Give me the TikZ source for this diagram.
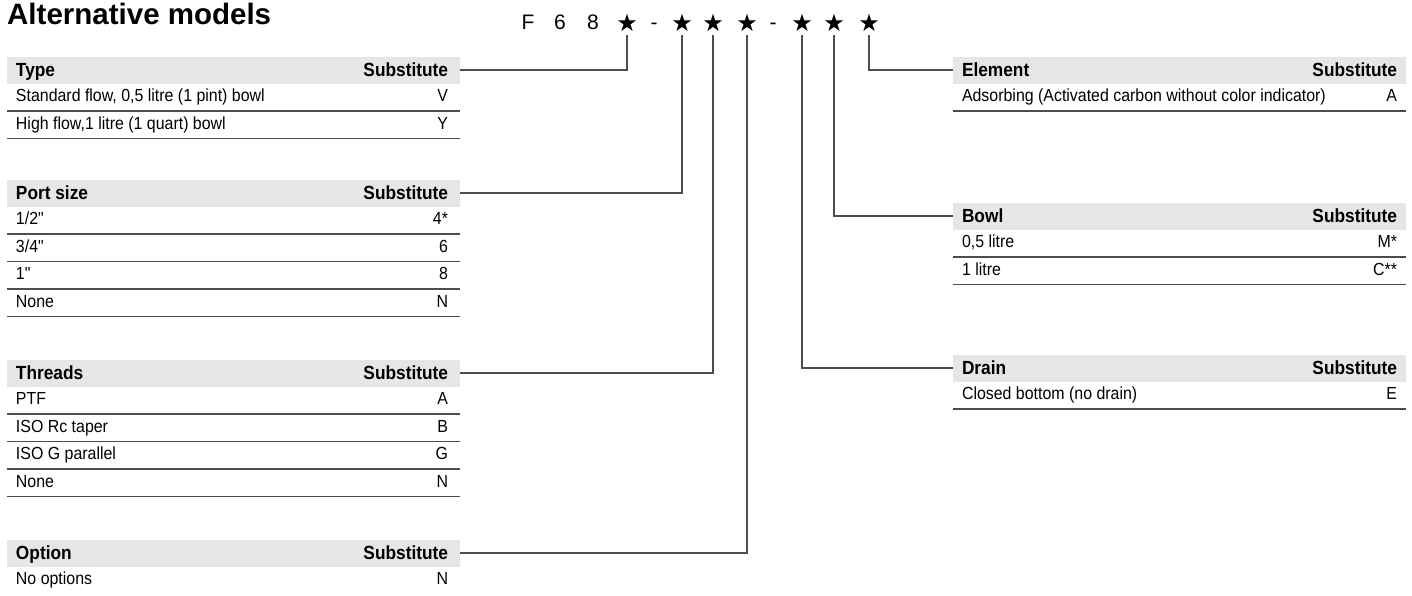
\documentclass[tikz,border=0pt]{standalone}
\usepackage{fontspec}
\setmainfont{Liberation Sans}
\newfontfamily\tabfont[FakeStretch=0.91,Ligatures=TeXOff]{Liberation Sans}
\newfontfamily\starfont{DejaVu Sans}
\usetikzlibrary{positioning}
\definecolor{bandgray}{HTML}{E6E6E6}
\definecolor{linegray}{HTML}{4D4D4D}

\begin{document}
\begin{tikzpicture}[x=1pt,y=-1pt,
    band/.style={fill=bandgray,minimum width=453pt,minimum height=27pt,inner sep=0pt},
    rowbox/.style={minimum width=453pt,minimum height=27pt,inner sep=0pt},
    headtext/.style={inner sep=0pt,font=\tabfont\bfseries\fontsize{19}{22}\selectfont,text height=13pt,text depth=0pt},
    rowtext/.style={inner sep=0pt,font=\tabfont\fontsize{17.5}{20}\selectfont,text height=12pt,text depth=3pt},
    codechar/.style={inner sep=0pt,anchor=base,font=\fontsize{21}{24}\selectfont},
    star/.style={inner sep=0pt,outer sep=4pt,anchor=base,font=\starfont\fontsize{24}{28}\selectfont},
    sepline/.style={draw=linegray,line width=1.3pt},
    conn/.style={draw=linegray,line width=1.2pt}]
  \useasboundingbox (0,0) rectangle (1412,595);

  \node[anchor=base west,inner sep=0pt,font=\bfseries\fontsize{29.5}{34}\selectfont] (title) at (7,24) {Alternative models};

  % order code
  \node[codechar] (cF) at (528,29) {F};
  \node[codechar] (c6) at (560,29) {6};
  \node[codechar] (c8) at (593,29) {8};
  \node[star] (s1) at (627,31) {★};
  \node[codechar] (d1) at (654,29) {-};
  \node[star] (s2) at (682,31) {★};
  \node[star] (s3) at (713,31) {★};
  \node[star] (s4) at (747,31) {★};
  \node[codechar] (d2) at (773,29) {-};
  \node[star] (s5) at (802,31) {★};
  \node[star] (s6) at (834,31) {★};
  \node[star] (s7) at (869,31) {★};

  % Type
  \node[band] (typeH) at (233.5,70) {};
  \node[headtext,right=9pt of typeH.west] (typeL) {Type};
  \node[headtext,left=12pt of typeH.east] (typeS) {Substitute};
  \node[rowbox,below=0pt of typeH] (type1) {};
  \node[rowbox,below=0pt of type1] (type2) {};
  \node[rowtext,right=9pt of type1.west] (type1t) {Standard flow, 0,5 litre (1 pint) bowl};
  \node[rowtext,left=12pt of type1.east] (type1v) {V};
  \node[rowtext,right=9pt of type2.west] (type2t) {High flow,1 litre (1 quart) bowl};
  \node[rowtext,left=12pt of type2.east] (type2v) {Y};
  \draw[sepline] (type1.south west) -- (type1.south east);
  \draw[sepline] (type2.south west) -- (type2.south east);

  % Port size
  \node[band] (portH) at (233.5,193) {};
  \node[headtext,right=9pt of portH.west] (portL) {Port size};
  \node[headtext,left=12pt of portH.east] (portS) {Substitute};
  \node[rowbox,below=0pt of portH] (port1) {};
  \node[rowbox,below=0pt of port1] (port2) {};
  \node[rowbox,below=0pt of port2] (port3) {};
  \node[rowbox,below=0pt of port3] (port4) {};
  \node[rowtext,right=9pt of port1.west] (port1t) {1/2"};
  \node[rowtext,left=12pt of port1.east] (port1v) {4*};
  \node[rowtext,right=9pt of port2.west] (port2t) {3/4"};
  \node[rowtext,left=12pt of port2.east] (port2v) {6};
  \node[rowtext,right=9pt of port3.west] (port3t) {1"};
  \node[rowtext,left=12pt of port3.east] (port3v) {8};
  \node[rowtext,right=9pt of port4.west] (port4t) {None};
  \node[rowtext,left=12pt of port4.east] (port4v) {N};
  \draw[sepline] (port1.south west) -- (port1.south east);
  \draw[sepline] (port2.south west) -- (port2.south east);
  \draw[sepline] (port3.south west) -- (port3.south east);
  \draw[sepline] (port4.south west) -- (port4.south east);

  % Threads
  \node[band] (threadH) at (233.5,373) {};
  \node[headtext,right=9pt of threadH.west] (threadL) {Threads};
  \node[headtext,left=12pt of threadH.east] (threadS) {Substitute};
  \node[rowbox,below=0pt of threadH] (thread1) {};
  \node[rowbox,below=0pt of thread1] (thread2) {};
  \node[rowbox,below=0pt of thread2] (thread3) {};
  \node[rowbox,below=0pt of thread3] (thread4) {};
  \node[rowtext,right=9pt of thread1.west] (thread1t) {PTF};
  \node[rowtext,left=12pt of thread1.east] (thread1v) {A};
  \node[rowtext,right=9pt of thread2.west] (thread2t) {ISO Rc taper};
  \node[rowtext,left=12pt of thread2.east] (thread2v) {B};
  \node[rowtext,right=9pt of thread3.west] (thread3t) {ISO G parallel};
  \node[rowtext,left=12pt of thread3.east] (thread3v) {G};
  \node[rowtext,right=9pt of thread4.west] (thread4t) {None};
  \node[rowtext,left=12pt of thread4.east] (thread4v) {N};
  \draw[sepline] (thread1.south west) -- (thread1.south east);
  \draw[sepline] (thread2.south west) -- (thread2.south east);
  \draw[sepline] (thread3.south west) -- (thread3.south east);
  \draw[sepline] (thread4.south west) -- (thread4.south east);

  % Option
  \node[band] (optionH) at (233.5,553) {};
  \node[headtext,right=9pt of optionH.west] (optionL) {Option};
  \node[headtext,left=12pt of optionH.east] (optionS) {Substitute};
  \node[rowbox,below=0pt of optionH] (option1) {};
  \node[rowtext,right=9pt of option1.west] (option1t) {No options};
  \node[rowtext,left=12pt of option1.east] (option1v) {N};

  % Element
  \node[band] (elemH) at (1179.5,70) {};
  \node[headtext,right=9pt of elemH.west] (elemL) {Element};
  \node[headtext,left=9pt of elemH.east] (elemS) {Substitute};
  \node[rowbox,below=0pt of elemH] (elem1) {};
  \node[rowtext,right=9pt of elem1.west] (elem1t) {Adsorbing (Activated carbon without color indicator)};
  \node[rowtext,left=9pt of elem1.east] (elem1v) {A};
  \draw[sepline] (elem1.south west) -- (elem1.south east);

  % Bowl
  \node[band] (bowlH) at (1179.5,216) {};
  \node[headtext,right=9pt of bowlH.west] (bowlL) {Bowl};
  \node[headtext,left=9pt of bowlH.east] (bowlS) {Substitute};
  \node[rowbox,below=0pt of bowlH] (bowl1) {};
  \node[rowbox,below=0pt of bowl1] (bowl2) {};
  \node[rowtext,right=9pt of bowl1.west] (bowl1t) {0,5 litre};
  \node[rowtext,left=9pt of bowl1.east] (bowl1v) {M*};
  \node[rowtext,right=9pt of bowl2.west] (bowl2t) {1 litre};
  \node[rowtext,left=9pt of bowl2.east] (bowl2v) {C**};
  \draw[sepline] (bowl1.south west) -- (bowl1.south east);
  \draw[sepline] (bowl2.south west) -- (bowl2.south east);

  % Drain
  \node[band] (drainH) at (1179.5,368) {};
  \node[headtext,right=9pt of drainH.west] (drainL) {Drain};
  \node[headtext,left=9pt of drainH.east] (drainS) {Substitute};
  \node[rowbox,below=0pt of drainH] (drain1) {};
  \node[rowtext,right=9pt of drain1.west] (drain1t) {Closed bottom (no drain)};
  \node[rowtext,left=9pt of drain1.east] (drain1v) {E};
  \draw[sepline] (drain1.south west) -- (drain1.south east);

  % leaders from the code
  \draw[conn] (s1.south) |- (typeH.east);
  \draw[conn] (s2.south) |- (portH.east);
  \draw[conn] (s3.south) |- (threadH.east);
  \draw[conn] (s4.south) |- (optionH.east);
  \draw[conn] (s5.south) |- (drainH.west);
  \draw[conn] (s6.south) |- (bowlH.west);
  \draw[conn] (s7.south) |- (elemH.west);
\end{tikzpicture}
\end{document}
